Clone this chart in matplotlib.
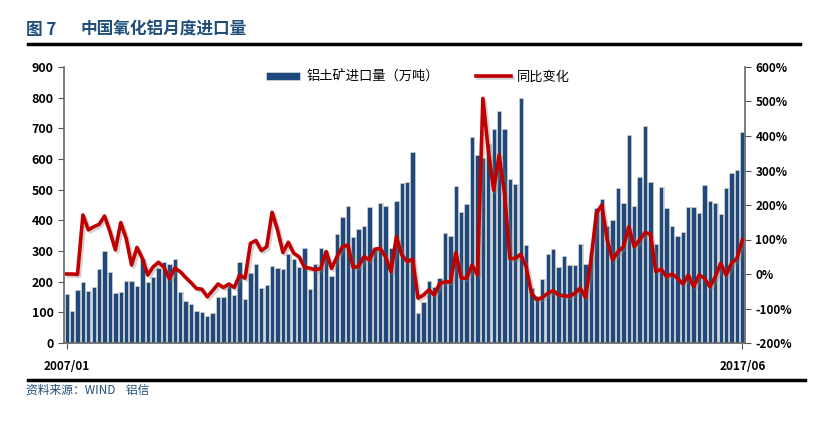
import matplotlib
matplotlib.use('Agg')
import matplotlib.pyplot as plt
import matplotlib.patheffects as pe
import numpy as np

plt.rcParams['font.family'] = ['Noto Sans CJK SC', 'DejaVu Sans']

# 数据
月份标签 = ['2007/01', '2017/06']
进口量 = [160, 105, 173, 198, 171, 184, 242, 299, 230, 162,
          165, 202, 202, 186, 275, 199, 216, 245, 263, 257,
          274, 165, 137, 127, 105, 101, 89, 98, 151, 151,
          186, 156, 265, 143, 227, 258, 178, 189, 252, 243,
          241, 291, 274, 249, 309, 177, 257, 309, 301, 218,
          354, 412, 447, 347, 371, 381, 445, 309, 455, 447,
          309, 464, 523, 525, 624, 99, 135, 202, 184, 211,
          359, 350, 512, 428, 453, 673, 612, 604, 650, 697,
          757, 697, 535, 520, 800, 320, 180, 153, 209, 289,
          306, 249, 284, 254, 254, 323, 256, 298, 441, 468,
          382, 401, 504, 455, 678, 446, 540, 709, 526, 322,
          510, 439, 382, 349, 361, 445, 445, 425, 514, 464,
          455, 422, 504, 555, 564, 687]
同比 = [0, 0, -1, 171, 128, 137, 144, 168, 123, 70,
        149, 103, 26, 77, 45, -3, 21, 34, 19, -14,
        17, 7, -10, -25, -42, -44, -66, -48, -29, -39,
        -29, -39, -3, -12, 89, 97, 68, 79, 179, 128,
        62, 92, 60, 50, 19, 17, 12, 16, 65, 16,
        50, 79, 84, 19, 22, 50, 41, 72, 74, 50,
        7, 108, 55, 36, 43, -70, -61, -46, -61, -27,
        -23, -23, 62, -12, -12, 26, -3, 509, 359, 243,
        345, 234, 45, 45, 57, 21, -56, -75, -68, -56,
        -48, -61, -63, -65, -56, -41, -68, 41, 176, 200,
        99, 41, 65, 79, 137, 79, 99, 120, 116, 7,
        14, -8, 0, -12, -29, -3, -37, -3, -12, -37,
        -8, 31, -3, 31, 45, 99]

x = np.arange(len(进口量))
蓝 = '#1F497D'
红 = '#C00000'
标题色 = '#1F4E79'

fig = plt.figure(figsize=(8.32, 4.28), dpi=100)
ax = fig.add_axes([64/832, 85/428, 681/832, 276/428])

# 柱子阴影 + 柱子
ax.bar(x + 0.22, 进口量, width=0.8, color='#d6d6d6', zorder=1)
ax.bar(x, 进口量, width=0.8, color=蓝, edgecolor='#efe9d6', linewidth=0.4,
       zorder=2, label='铝土矿进口量（万吨）')

ax.set_ylim(0, 900)
ax.set_yticks(range(0, 901, 100))
ax.set_xlim(-0.5, len(进口量) - 0.5)
ax.set_xticks([0, len(进口量) - 1])
ax.set_xticklabels(月份标签, fontweight='bold', fontsize=8.5)
ax.tick_params(axis='x', length=4, pad=8, color='#555555')
ax.tick_params(axis='y', labelsize=9, length=4, color='#555555')
for t in ax.get_yticklabels():
    t.set_fontweight('bold')
for s in ['top', 'right']:
    ax.spines[s].set_visible(False)
for s in ['left', 'bottom']:
    ax.spines[s].set_color('#666666')
    ax.spines[s].set_linewidth(1.2)

# 右轴：同比变化
ax2 = ax.twinx()
ax2.plot(x, 同比, color=红, linewidth=2.6, solid_joinstyle='round',
         label='同比变化', zorder=3,
         path_effects=[pe.SimpleLineShadow(offset=(1.5, -1.5), shadow_color='gray', alpha=0.35),
                       pe.Normal()])
ax2.set_ylim(-200, 600)
ax2.set_yticks(range(-200, 601, 100))
ax2.set_yticklabels([f'{v}%' for v in range(-200, 601, 100)], fontweight='bold', fontsize=8.5)
ax2.tick_params(axis='y', length=4, color='#555555')
for s in ['top', 'left', 'bottom']:
    ax2.spines[s].set_visible(False)
ax2.spines['right'].set_color('#666666')
ax2.spines['right'].set_linewidth(1.2)

# 图例
h1, l1 = ax.get_legend_handles_labels()
h2, l2 = ax2.get_legend_handles_labels()
ax2.legend(h1 + h2, l1 + l2, loc='upper center', bbox_to_anchor=(0.52, 1.03), ncol=2,
           frameon=False, fontsize=9.5, handlelength=2.6, handleheight=0.5,
           handletextpad=0.5, columnspacing=2.8)

# 标题与来源
fig.text(26/832, 1 - 30/428, '图 7', color=标题色, fontsize=12, fontweight='bold', va='center')
fig.text(80/832, 1 - 30/428, '中国氧化铝月度进口量', color=标题色, fontsize=12,
         fontweight='bold', va='center')
fig.add_artist(plt.Line2D([28/832, 800/832], [1 - 44/428, 1 - 44/428], color='black', linewidth=2.5))
fig.add_artist(plt.Line2D([28/832, 805/832], [1 - 380/428, 1 - 380/428], color='black', linewidth=2.5))
fig.text(26/832, 1 - 390/428, '资料来源：WIND    铝信', color=标题色, fontsize=8.5,
         style='italic', va='center')

fig.savefig('out.png', dpi=100)
